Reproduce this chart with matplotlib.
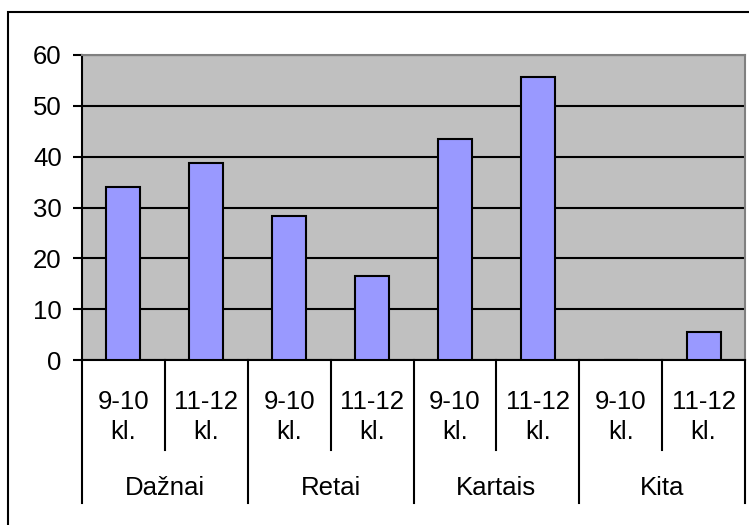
import numpy as np
import matplotlib.pyplot as plt
from matplotlib.patches import Rectangle

plt.rcParams['font.family'] = ['Liberation Sans', 'DejaVu Sans']

groups = ['Dažnai', 'Retai', 'Kartais', 'Kita']
sub_labels = ['9-10\nkl.', '11-12\nkl.']
values = [34.1, 38.8, 28.3, 16.5, 43.5, 55.7, 0, 5.5]
yticks = [0, 10, 20, 30, 40, 50, 60]

fs = 18.5

fig = plt.figure(figsize=(7.49, 5.25), dpi=100)
ax = fig.add_axes([82/749, 1-360/525, (745-82)/749, (360-55)/525])
ax.set_facecolor('#C0C0C0')

x = np.arange(len(values))
ax.bar(x, values, width=0.41, color='#9999FF', edgecolor='black', linewidth=1.5, zorder=3)

ax.set_xlim(-0.5, len(values) - 0.5)
ax.set_ylim(0, 60)
ax.set_yticks(yticks)
ax.set_yticklabels([str(t) for t in yticks], fontsize=fs)
ax.tick_params(axis='y', direction='out', length=6.5, width=1.5, pad=8)
ax.set_xticks([])
ax.yaxis.grid(True, color='black', linewidth=1.5, zorder=1)
ax.set_axisbelow(True)

for s in ['top', 'right']:
    ax.spines[s].set_color('#808080')
    ax.spines[s].set_linewidth(1.5)
for s in ['left', 'bottom']:
    ax.spines[s].set_color('black')
    ax.spines[s].set_linewidth(1.5)

# multi-level category axis
h = 305.0  # plot height in px
tr = ax.get_xaxis_transform()
for i in range(len(values) + 1):
    edge = i - 0.5
    low = -(503 - 360) / h if i % 2 == 0 else -(450 - 360) / h
    ax.plot([edge, edge], [0, low], transform=tr, color='black', lw=1.5, clip_on=False)
for i in range(len(values)):
    ax.text(i, -(417 - 360) / h, sub_labels[i % 2], transform=tr, ha='center', va='center',
            fontsize=fs, linespacing=1.3)
for g, name in enumerate(groups):
    ax.text(2 * g + 0.5, -(488 - 360) / h, name, transform=tr, ha='center', va='center', fontsize=fs)

# chart area border (cut off at right and bottom)
fig.patches.append(Rectangle((8/749, -0.1), 1.2, 1.1 - 12/525, fill=False, edgecolor='black',
                             linewidth=1.5, transform=fig.transFigure, figure=fig))

fig.savefig('out.png', dpi=100)
